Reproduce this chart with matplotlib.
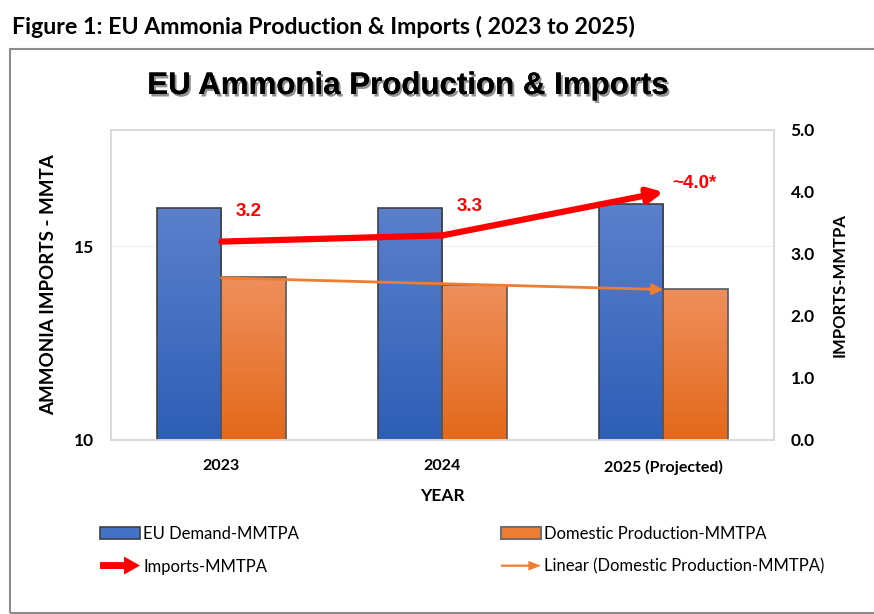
import numpy as np
import matplotlib
matplotlib.use("Agg")
import matplotlib.pyplot as plt
import matplotlib.patches as mpatches
import matplotlib.patheffects as pe
from matplotlib.colors import LinearSegmentedColormap
from matplotlib.legend_handler import HandlerPatch

# Data
years = ["2023", "2024", "2025 (Projected)"]
eu_demand = [16.0, 16.0, 16.1]
domestic = [14.2, 14.0, 13.9]
imports = [3.2, 3.3, 4.0]
import_labels = ["3.2", "3.3", "~4.0*"]

plt.rcParams["font.family"] = ["Lato", "DejaVu Sans"]

fig = plt.figure(figsize=(8.74, 6.14), dpi=100)

# outer frame + figure caption
fig.patches.append(mpatches.Rectangle((10 / 874, 1 - 613 / 614), 2, 564 / 614,
                                      transform=fig.transFigure, fill=False,
                                      edgecolor="#8c8c8c", lw=1.5))
fig.text(12 / 874, 1 - 27 / 614, "Figure 1: EU Ammonia Production & Imports ( 2023 to 2025)",
         fontsize=16.7, fontweight="bold", va="center", ha="left")

fig.text(408 / 874, 1 - 86 / 614, "EU Ammonia Production & Imports",
         fontsize=22.5, fontweight="bold", family="Liberation Sans",
         ha="center", va="center",
         path_effects=[pe.withSimplePatchShadow(offset=(1.5, -1.8), shadow_rgbFace="#777777", alpha=0.8),
                       pe.Normal()])

ax = fig.add_axes([111 / 874, 1 - 440 / 614, 663 / 874, 310 / 614])
ax2 = ax.twinx()

x = np.arange(len(years))
w = 0.29
blue_cm = LinearSegmentedColormap.from_list("b", ["#2E5EB6", "#5B80CC"])
orange_cm = LinearSegmentedColormap.from_list("o", ["#E3691A", "#EF8F5C"])

bars1 = ax.bar(x - w / 2, eu_demand, w, bottom=0, color="none", edgecolor="#404040", lw=1.2, zorder=3)
bars2 = ax.bar(x + w / 2, domestic, w, bottom=0, color="none", edgecolor="#5a5a5a", lw=1.2, zorder=3)

grad = np.linspace(0, 1, 256).reshape(-1, 1)
for bars, cm in [(bars1, blue_cm), (bars2, orange_cm)]:
    for b in bars:
        x0, y1 = b.get_x(), b.get_height()
        im = ax.imshow(grad, cmap=cm, origin="lower", aspect="auto",
                       extent=[x0, x0 + b.get_width(), 10, y1], zorder=2)
        im.set_clip_path(b)

ax.set_xlim(-0.5, 2.5)
ax.set_ylim(10, 18)
ax.set_yticks([10, 15])
ax.axhline(15, color="#efefef", lw=0.8, zorder=1)
ax.set_xticks(x)
ax.set_xticklabels(years, fontsize=11.5, fontweight="bold")
ax.tick_params(axis="both", length=0, labelsize=12.5)
ax.tick_params(axis="x", pad=14, labelsize=11.5)
ax.tick_params(axis="y", pad=12)
for t in ax.get_yticklabels():
    t.set_fontweight("bold")
ax.set_ylabel("AMMONIA IMPORTS - MMTA", fontsize=13.5, fontweight="bold", labelpad=12)
ax.set_xlabel("YEAR", fontsize=12.5, fontweight="bold", labelpad=10)

# linear trend of domestic production
coef = np.polyfit(x, domestic, 1)
trend = np.polyval(coef, x)
ax.annotate("", xy=(x[-1], trend[-1]), xytext=(x[0], trend[0]),
            arrowprops=dict(arrowstyle="-|>", color="#ED7D31", lw=2, mutation_scale=16,
                            shrinkA=0, shrinkB=0), zorder=5)

# imports line (right axis)
ax2.set_ylim(0, 5)
ax2.set_yticks(np.arange(0, 5.1, 1))
ax2.set_yticklabels([f"{v:.1f}" for v in np.arange(0, 5.1, 1)], fontweight="bold")
ax2.tick_params(axis="y", length=0, labelsize=12.5, pad=12)
ax2.set_ylabel("IMPORTS-MMTPA", fontsize=12, fontweight="bold", labelpad=12)
ax2.plot(x[:2], imports[:2], color="red", lw=4.5, solid_capstyle="round", zorder=6)
ax2.annotate("", xy=(x[2], imports[2]), xytext=(x[1], imports[1]),
             arrowprops=dict(arrowstyle="-|>", color="red", lw=4.5, mutation_scale=22,
                             shrinkA=0, shrinkB=0), zorder=6)
offsets = [(10, 22), (10, 21), (6, 6)]
for xi, yi, lab, off in zip(x, imports, import_labels, offsets):
    ax2.annotate(lab, xy=(xi, yi), xytext=off, textcoords="offset points",
                 color="red", fontsize=13.5, fontweight="bold", family="Liberation Sans",
                 va="center", ha="left",
                 arrowprops=dict(arrowstyle="-", color="#eeeeee", lw=0.8,
                                 shrinkA=6, shrinkB=2) if xi < 2 else None)

for a in (ax, ax2):
    for s in a.spines.values():
        s.set_color("#d9d9d9")
        s.set_linewidth(1.2)

# legend
def red_arrow(legend, orig_handle, xdescent, ydescent, width, height, fontsize):
    return mpatches.FancyArrow(0, height / 2, width, 0, width=5, head_width=13,
                               head_length=11.5, length_includes_head=True)

def orange_arrow(legend, orig_handle, xdescent, ydescent, width, height, fontsize):
    return mpatches.FancyArrow(0, height / 2, width, 0, width=1.6, head_width=7,
                               head_length=9, length_includes_head=True)

h_demand = mpatches.Patch(facecolor="#4472C4", edgecolor="#404040", lw=1.2, label="EU Demand-MMTPA")
h_imports = mpatches.FancyArrow(0, 0, 1, 0, facecolor="red", edgecolor="none", lw=0,
                                label="Imports-MMTPA")
h_dom = mpatches.Patch(facecolor="#ED7D31", edgecolor="#707070", lw=1.5, label="Domestic Production-MMTPA")
h_lin = mpatches.FancyArrow(0, 0, 1, 0, facecolor="#ED7D31", edgecolor="none", lw=0,
                            label="Linear (Domestic Production-MMTPA)")
fig.legend(handles=[h_demand, h_imports, h_dom, h_lin], ncol=2, frameon=False,
           loc="upper left", bbox_to_anchor=(85 / 874, 1 - 511 / 614),
           fontsize=12, handlelength=2.4, handleheight=0.75, handletextpad=0.2,
           columnspacing=12.1, labelspacing=1.0,
           handler_map={h_imports: HandlerPatch(patch_func=red_arrow),
                        h_lin: HandlerPatch(patch_func=orange_arrow)})

fig.savefig("out.png", dpi=100)
